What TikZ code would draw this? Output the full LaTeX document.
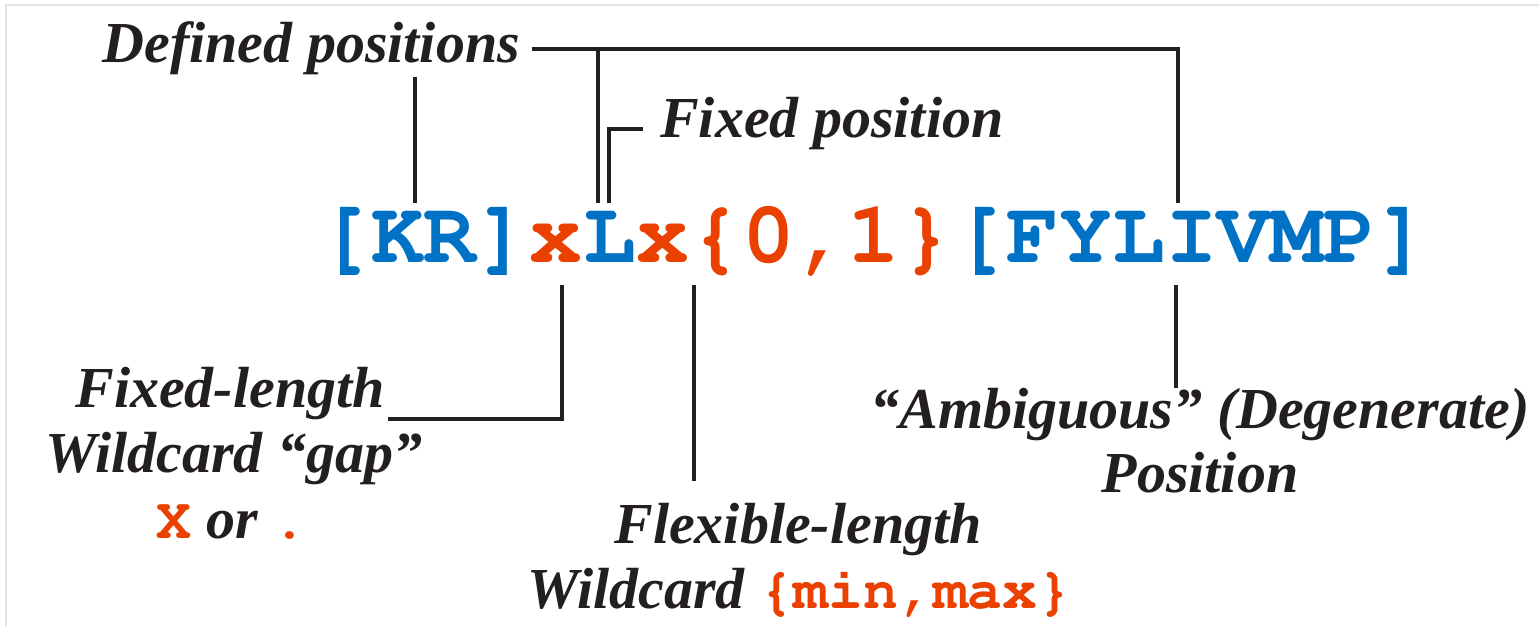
\documentclass[tikz,border=0pt]{standalone}
\usepackage[T1]{fontenc}
\usepackage{fontspec}
\setmainfont{Liberation Serif}
% slab-serif typewriter face (URW Nimbus Mono, bold) for the motif
\newcommand{\courier}{\fontencoding{T1}\fontfamily{pcr}\fontseries{b}\fontshape{n}\selectfont}
\definecolor{seqblue}{RGB}{0,114,198}
\definecolor{seqred}{RGB}{234,64,0}
\definecolor{ink}{RGB}{35,31,32}
\definecolor{framegray}{RGB}{226,226,226}
\newcommand{\code}[1]{{\color{seqred}\courier #1}}

\tikzset{
  seq/.style={inner sep=0pt, anchor=base west,
    font=\fontsize{88}{88}\courier},
  fixedres/.style={seq, text=seqblue},
  wild/.style={seq, text=seqred},
  lbl/.style={inner sep=0pt, anchor=base, text=ink,
    font=\bfseries\itshape\fontsize{58}{65}\selectfont},
  lead/.style={draw=ink, line width=4pt},
}

\begin{document}
\begin{tikzpicture}[x=1pt, y=-1pt]
\useasboundingbox (0,0) rectangle (1539,626);
\fill[white] (0,0) rectangle (1539,626);
\draw[framegray, line width=2pt] (6,626) -- (6,5) -- (1539,5);

% the motif, one node per element
\node[fixedres] (kr)   at (318,262)       {[KR]};
\node[wild]     (gap)  at (kr.base east)  {x};
\node[fixedres] (lys)  at (gap.base east) {L};
\node[wild]     (gapb) at (lys.base east) {x};
\node[wild]     (rng)  at (gapb.base east) {\{0,1\}};
\node[fixedres] (amb)  at (rng.base east) {[FYLIVMP]};

% labels
\node[lbl, anchor=base east] (defined) at (520,63) {Defined positions};
\node[lbl, anchor=base west] (fixedpos) at (660,137) {Fixed position};

\node[lbl] (gapA) at (230,407) {Fixed-length};
\node[lbl] (gapB) at (234,472) {Wildcard ``gap''};
\node[lbl] (gapC) at (232,538) {\code{X} or \code{.}};

\node[lbl] (flexA) at (798,543) {Flexible-length};
\node[lbl] (flexB) at (800,608) {Wildcard \code{\{min,max\}}};

\node[lbl] (ambA) at (1200,428) {``Ambiguous'' (Degenerate)};
\node[lbl] (ambB) at (1200,492) {Position};

% connector end points
\coordinate (topR)  at (1178,203);
\coordinate (branch) at (598,49);
\coordinate (lysA)  at (598,203);
\coordinate (krTop) at (415,77);
\coordinate (krEnd) at (415,203);
\coordinate (fixStart) at (643,129);
\coordinate (lysB)  at (609,203);
\coordinate (gapTop) at (562,285);
\coordinate (gapEnd) at (388,419);
\coordinate (rngTop) at (694,285);
\coordinate (rngEnd) at (694,481);
\coordinate (ambTop) at (1176,285);
\coordinate (ambEnd) at (1176,388);

% connectors
\draw[lead] ([xshift=12pt]defined.east) -| (topR);
\draw[lead] (branch) -- (lysA);
\draw[lead] (krTop) -- (krEnd);
\draw[lead] (fixStart) -| (lysB);
\draw[lead] (gapTop) |- (gapEnd);
\draw[lead] (rngTop) -- (rngEnd);
\draw[lead] (ambTop) -- (ambEnd);
\end{tikzpicture}
\end{document}
